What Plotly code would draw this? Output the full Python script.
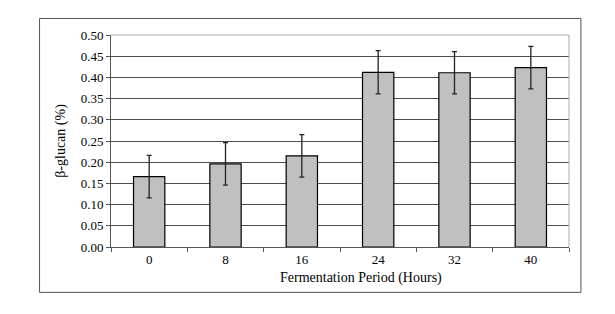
import plotly.graph_objects as go

hours = ["0", "8", "16", "24", "32", "40"]
beta_glucan = [0.166, 0.196, 0.215, 0.412, 0.411, 0.423]
errors = [0.050, 0.050, 0.050, 0.051, 0.050, 0.050]

font_family = "Liberation Serif, Times New Roman, serif"

fig = go.Figure()
fig.add_trace(go.Bar(
    x=hours, y=beta_glucan,
    marker=dict(color="#C0C0C0", line=dict(color="#000000", width=1.2)),
    error_y=dict(type="data", array=errors, visible=True,
                 color="#222222", thickness=1.3, width=2.5),
    width=0.41,
))

# page body has an 8px default margin, so the figure is sized/offset to compensate
fig.update_layout(
    width=607, height=306,
    margin=dict(l=103, r=46, t=27, b=67),
    paper_bgcolor="white", plot_bgcolor="white",
    showlegend=False,
    font=dict(family=font_family, size=13, color="#000000"),
    xaxis=dict(
        type="category",
        showgrid=False,
        showline=True, linecolor="#555555", linewidth=1,
        ticks="outside", ticklen=4, tickcolor="#555555",
        tickson="boundaries",
        tickfont=dict(size=13, family=font_family),
    ),
    yaxis=dict(
        range=[0, 0.5], dtick=0.05, tickformat=".2f",
        showgrid=True, gridcolor="#4d4d4d", gridwidth=1,
        showline=True, linecolor="#555555", linewidth=1,
        ticks="outside", ticklen=4, tickcolor="#555555",
        zeroline=False,
        title=dict(text="β-glucan (%)", font=dict(size=14, family=font_family), standoff=11),
        tickfont=dict(size=13, family=font_family),
    ),
    annotations=[
        dict(text="Fermentation Period (Hours)", xref="paper", yref="paper",
             x=0.545, y=-0.146, xanchor="center", yanchor="middle", showarrow=False,
             font=dict(size=14, family=font_family, color="#000000")),
    ],
    shapes=[
        dict(type="line", xref="paper", yref="paper", x0=0, x1=1, y0=1, y1=1,
             line=dict(color="#AAAAAA", width=1)),
        dict(type="line", xref="paper", yref="paper", x0=1, x1=1, y0=0, y1=1,
             line=dict(color="#AAAAAA", width=1)),
        dict(type="rect", xref="paper", yref="paper",
             x0=-0.156, x1=1.026, y0=-0.214, y1=1.078,
             line=dict(color="#555555", width=1), fillcolor="rgba(0,0,0,0)"),
    ],
)

fig.write_html("out.html")
